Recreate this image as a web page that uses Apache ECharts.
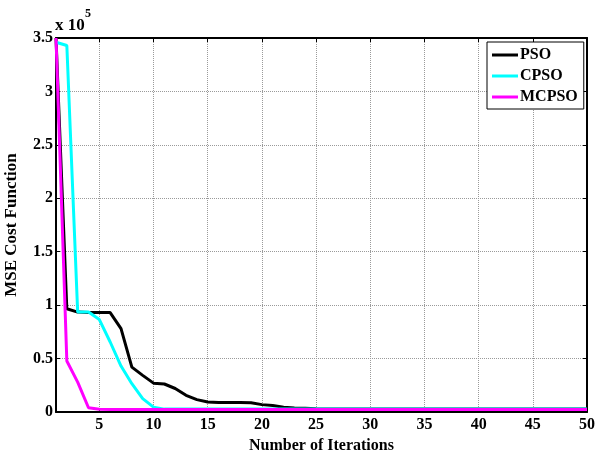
<!DOCTYPE html>
<html>
<head>
<meta charset="utf-8">
<title>MSE Cost Function</title>
<script src="https://cdn.jsdelivr.net/npm/echarts@6/dist/echarts.min.js"></script>
<style>
  html, body { margin: 0; padding: 0; background: #fff; }
  #chart { width: 596px; height: 450px; }
</style>
</head>
<body>
<div id="chart"></div>
<script>
  // values are in units of 10^5
  var iterations = []
  for (var i = 1; i <= 50; i++) iterations.push(i)

  var pso = [3.5, 0.966, 0.935, 0.93, 0.93, 0.93, 0.78, 0.42, 0.343, 0.27,
    0.262, 0.22, 0.156, 0.116, 0.094, 0.088, 0.088, 0.088, 0.087, 0.069,
    0.06, 0.044, 0.037, 0.035, 0.031, 0.029, 0.029, 0.029, 0.029, 0.029,
    0.029, 0.029, 0.029, 0.029, 0.029, 0.029, 0.029, 0.029, 0.029, 0.029,
    0.029, 0.029, 0.029, 0.029, 0.029, 0.029, 0.029, 0.029, 0.029, 0.029]
  var cpso = [3.46, 3.43, 0.935, 0.935, 0.865, 0.655, 0.43, 0.265, 0.125, 0.045,
    0.027, 0.027, 0.027, 0.027, 0.027, 0.027, 0.027, 0.027, 0.027, 0.027,
    0.027, 0.027, 0.027, 0.027, 0.027, 0.027, 0.027, 0.027, 0.027, 0.027,
    0.027, 0.027, 0.027, 0.027, 0.027, 0.027, 0.027, 0.027, 0.027, 0.027,
    0.027, 0.027, 0.027, 0.027, 0.027, 0.027, 0.027, 0.027, 0.027, 0.027]
  var mcpso = [3.5, 0.477, 0.28, 0.04, 0.025, 0.024, 0.024, 0.024, 0.024, 0.024,
    0.024, 0.024, 0.024, 0.024, 0.024, 0.024, 0.024, 0.024, 0.024, 0.024,
    0.024, 0.024, 0.024, 0.024, 0.024, 0.024, 0.024, 0.024, 0.024, 0.024,
    0.024, 0.024, 0.024, 0.024, 0.024, 0.024, 0.024, 0.024, 0.024, 0.024,
    0.024, 0.024, 0.024, 0.024, 0.024, 0.024, 0.024, 0.024, 0.024, 0.024]

  var xTicks = [5, 10, 15, 20, 25, 30, 35, 40, 45, 50]
  var yTicks = [0, 0.5, 1, 1.5, 2, 2.5, 3, 3.5]
  var seriesNames = ['PSO', 'CPSO', 'MCPSO']
  var seriesColors = ['#000000', '#00ffff', '#ff00ff']

  var font = 'Liberation Serif, Times New Roman, serif'

  function pairs (ys) {
    return ys.map(function (y, k) { return [iterations[k], y] })
  }

  var chart = echarts.init(document.getElementById('chart'), null, { renderer: 'canvas' })

  var axisLine = { show: true, onZero: false, lineStyle: { color: '#000', width: 2 } }
  var gridLine = { show: true, lineStyle: { color: '#9a9a9a', width: 1, type: [1, 1] } }

  chart.setOption({
    animation: false,
    backgroundColor: '#fff',
    color: seriesColors,
    grid: { left: 56, right: 9, top: 38, bottom: 38, containLabel: false, outerBoundsMode: 'none' },
    legend: {
      data: seriesNames,
      orient: 'vertical',
      left: 487,
      top: 42,
      padding: [5, 6, 4, 5],
      itemGap: 5,
      itemWidth: 26,
      itemHeight: 3,
      icon: 'rect',
      selectedMode: false,
      backgroundColor: '#fff',
      borderColor: '#000',
      borderWidth: 1,
      textStyle: { fontFamily: font, fontWeight: 'bold', fontSize: 16, color: '#000', padding: [0, 0, 0, -3] }
    },
    xAxis: [{
      type: 'value',
      min: 1,
      max: 50,
      name: 'Number of Iterations',
      nameLocation: 'middle',
      nameGap: 22,
      nameTextStyle: { fontFamily: font, fontWeight: 'bold', fontSize: 16, color: '#000' },
      axisLine: axisLine,
      axisTick: { inside: true, length: 4, customValues: xTicks, lineStyle: { color: '#000' } },
      axisLabel: { customValues: xTicks, margin: 5, fontFamily: font, fontWeight: 'bold', fontSize: 16, color: '#000' },
      splitLine: gridLine
    }, {
      type: 'value',
      position: 'top',
      min: 1,
      max: 50,
      axisLine: axisLine,
      axisTick: { inside: true, length: 4, customValues: xTicks, lineStyle: { color: '#000' } },
      axisLabel: { show: false },
      splitLine: { show: false }
    }],
    yAxis: [{
      type: 'value',
      min: 0,
      max: 3.5,
      interval: 0.5,
      name: 'MSE Cost Function',
      nameLocation: 'middle',
      nameGap: 28,
      nameTextStyle: { fontFamily: font, fontWeight: 'bold', fontSize: 17, color: '#000', padding: [0, 0, 8, 0] },
      axisLine: axisLine,
      axisTick: { inside: true, length: 4, customValues: yTicks, lineStyle: { color: '#000' } },
      axisLabel: {
        customValues: yTicks,
        margin: 3,
        fontFamily: font, fontWeight: 'bold', fontSize: 16, color: '#000',
        formatter: function (v) { return String(v) }
      },
      splitLine: gridLine
    }, {
      type: 'value',
      position: 'right',
      min: 0,
      max: 3.5,
      interval: 0.5,
      axisLine: axisLine,
      axisTick: { inside: true, length: 4, customValues: yTicks, lineStyle: { color: '#000' } },
      axisLabel: { show: false },
      splitLine: { show: false }
    }],
    graphic: [
      { type: 'text', left: 55, top: 17, style: { text: 'x 10', fontFamily: font, fontWeight: 'bold', fontSize: 17, fill: '#000' } },
      { type: 'text', left: 85, top: 8, style: { text: '5', fontFamily: font, fontWeight: 'bold', fontSize: 12, fill: '#000' } }
    ],
    series: [
      { name: 'PSO', type: 'line', data: pairs(pso), showSymbol: false, symbol: 'none', lineStyle: { width: 3, color: seriesColors[0] } },
      { name: 'CPSO', type: 'line', data: pairs(cpso), showSymbol: false, symbol: 'none', lineStyle: { width: 3, color: seriesColors[1] } },
      { name: 'MCPSO', type: 'line', data: pairs(mcpso), showSymbol: false, symbol: 'none', lineStyle: { width: 3, color: seriesColors[2] } }
    ]
  })
</script>
</body>
</html>
